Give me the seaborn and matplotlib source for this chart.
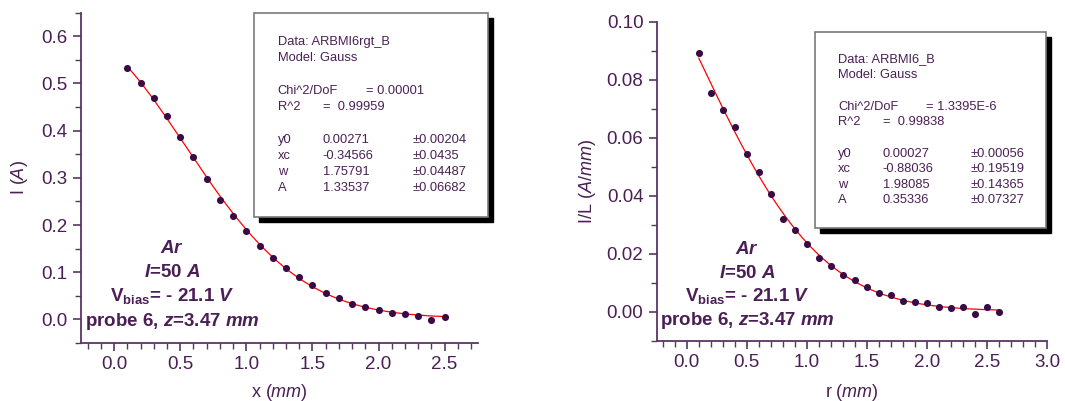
import numpy as np
import pandas as pd
import seaborn as sns
import matplotlib.pyplot as plt
from matplotlib.patches import Rectangle
from matplotlib.ticker import MultipleLocator

# ---- data ----
x_left = [0.1, 0.2, 0.3, 0.4, 0.5, 0.6, 0.7, 0.8, 0.9, 1.0, 1.1, 1.2, 1.3,
          1.4, 1.5, 1.6, 1.7, 1.8, 1.9, 2.0, 2.1, 2.2, 2.3, 2.4, 2.5]
i_left = [0.532, 0.501, 0.470, 0.432, 0.387, 0.344, 0.297, 0.254, 0.220,
          0.187, 0.155, 0.131, 0.108, 0.090, 0.072, 0.056, 0.045, 0.033,
          0.027, 0.021, 0.014, 0.011, 0.008, -0.001, 0.006]

r_right = [0.1, 0.2, 0.3, 0.4, 0.5, 0.6, 0.7, 0.8, 0.9, 1.0, 1.1, 1.2, 1.3,
           1.4, 1.5, 1.6, 1.7, 1.8, 1.9, 2.0, 2.1, 2.2, 2.3, 2.4, 2.5, 2.6]
il_right = [0.0892, 0.0755, 0.0697, 0.0638, 0.0543, 0.0481, 0.0407, 0.0320,
            0.0280, 0.0232, 0.0186, 0.0158, 0.0125, 0.0108, 0.0086, 0.0064,
            0.0058, 0.0036, 0.0032, 0.0029, 0.0016, 0.0014, 0.0017, -0.0007,
            0.0015, 0.0000]

# Gauss fit parameters (y0, xc, w, A) as printed in the boxes
fit_left = [0.00271, -0.34566, 1.75791, 1.33537]
fit_right = [0.00027, -0.88036, 1.98085, 0.35336]

# rows of the fit boxes: (text, column) ; column 0 name, 1 value, 2 error, 3 chi
box_left = [[("Data: ARBMI6rgt_B", 0)], [("Model: Gauss", 0)], None,
            [("Chi^2/DoF", 0), ("= 0.00001", 3)],
            [("R^2", 0), ("=  0.99959", 1)], None,
            [("y0", 0), ("0.00271", 1), ("±0.00204", 2)],
            [("xc", 0), ("-0.34566", 1), ("±0.0435", 2)],
            [("w", 0), ("1.75791", 1), ("±0.04487", 2)],
            [("A", 0), ("1.33537", 1), ("±0.06682", 2)]]
box_right = [[("Data: ARBMI6_B", 0)], [("Model: Gauss", 0)], None,
             [("Chi^2/DoF", 0), ("= 1.3395E-6", 3)],
             [("R^2", 0), ("=  0.99838", 1)], None,
             [("y0", 0), ("0.00027", 1), ("±0.00056", 2)],
             [("xc", 0), ("-0.88036", 1), ("±0.19519", 2)],
             [("w", 0), ("1.98085", 1), ("±0.14365", 2)],
             [("A", 0), ("0.35336", 1), ("±0.07327", 2)]]

annot_lines = [r"$\mathbfit{Ar}$",
               r"$\mathbfit{I}$=50 $\mathbfit{A}$",
               r"V$_{\mathbf{bias}}$= - 21.1 $\mathbfit{V}$",
               r"probe 6, $\mathbfit{z}$=3.47 $\mathbfit{mm}$"]

sns.set_theme(style="white")
plt.rcParams["font.family"] = ["Liberation Sans", "DejaVu Sans"]
plt.rcParams["mathtext.fontset"] = "custom"
plt.rcParams["mathtext.rm"] = "Liberation Sans"
plt.rcParams["mathtext.it"] = "Liberation Sans:italic"
plt.rcParams["mathtext.bf"] = "Liberation Sans:bold"
plt.rcParams["mathtext.bfit"] = "Liberation Sans:bold:italic"

PURPLE = "#4a1f55"
SPINE = "#5a3565"
DOT = "#3a0a45"


def gauss(x, p):
    y0, xc, w, A = p
    return y0 + A / (w * np.sqrt(np.pi / 2)) * np.exp(-2 * ((x - xc) / w) ** 2)


def style_axes(ax, xlim, ylim, ymaj, ymin, ylabel, xlabel, yfmt, xpad, ypad):
    sns.despine(ax=ax)
    for s in ["left", "bottom"]:
        ax.spines[s].set_color(SPINE)
        ax.spines[s].set_linewidth(1.3)
    ax.set_xlim(*xlim)
    ax.set_ylim(*ylim)
    ax.xaxis.set_major_locator(MultipleLocator(0.5))
    ax.xaxis.set_minor_locator(MultipleLocator(0.1))
    ax.yaxis.set_major_locator(MultipleLocator(ymaj))
    ax.yaxis.set_minor_locator(MultipleLocator(ymin))
    ax.yaxis.set_major_formatter(yfmt)
    ax.xaxis.set_major_formatter("{x:.1f}")
    ax.tick_params(which="major", direction="out", length=6, width=1.2,
                   color=SPINE, labelcolor=PURPLE, labelsize=13.5,
                   left=True, bottom=True)
    ax.tick_params(which="minor", direction="out", length=4, width=1.0,
                   color=SPINE, left=True, bottom=True)
    ax.set_xlabel(xlabel, color=PURPLE, fontsize=13, labelpad=xpad)
    ax.set_ylabel(ylabel, color=PURPLE, fontsize=13, labelpad=ypad)
    ax.patch.set_alpha(0)


def draw_box(fig, x0, y0, x1, y1, rows, cols_px, top_px, step_px):
    W, H = fig.bbox.width, fig.bbox.height
    sh = 5
    fig.patches.append(Rectangle((x0 / W + sh / W, 1 - y1 / H - sh / H),
                                 (x1 - x0) / W, (y1 - y0) / H,
                                 transform=fig.transFigure, facecolor="black",
                                 edgecolor="black", zorder=5))
    fig.patches.append(Rectangle((x0 / W, 1 - y1 / H), (x1 - x0) / W,
                                 (y1 - y0) / H, transform=fig.transFigure,
                                 facecolor="white", edgecolor="#7a7a7a",
                                 linewidth=1.2, zorder=6))
    y = top_px
    for row in rows:
        if row is None:
            y += step_px * 1.05
            continue
        for txt, col in row:
            fig.text(cols_px[col] / W, 1 - y / H, txt, color=PURPLE,
                     fontsize=9.3, ha="left", va="center", zorder=7)
        y += step_px


def annot(fig, cx, cy_list):
    W, H = fig.bbox.width, fig.bbox.height
    for txt, cy in zip(annot_lines, cy_list):
        fig.text(cx / W, 1 - cy / H, txt, color=PURPLE, fontsize=13.5,
                 fontweight="bold", ha="center", va="center", zorder=8)


fig = plt.figure(figsize=(10.65, 4.01), dpi=100)
ax1 = fig.add_axes([0.0761, 0.1446, 0.3724, 0.8237])
ax2 = fig.add_axes([0.6166, 0.1504, 0.3668, 0.7955])

# left panel
xf = np.linspace(min(x_left), max(x_left), 200)
sns.lineplot(x=xf, y=gauss(xf, fit_left), ax=ax1, color="red", linewidth=0.9)
sns.scatterplot(x=x_left, y=i_left, ax=ax1, color=DOT, s=26, linewidth=0,
                zorder=3)
style_axes(ax1, (-0.25, 2.75), (-0.05, 0.65), 0.1, 0.05,
           r"I ($\mathit{A}$)", r"x ($\mathit{mm}$)", "{x:.1f}", 6, 8)

# right panel
rf = np.linspace(min(r_right), max(r_right), 200)
sns.lineplot(x=rf, y=gauss(rf, fit_right), ax=ax2, color="red", linewidth=0.9)
sns.scatterplot(x=r_right, y=il_right, ax=ax2, color=DOT, s=26, linewidth=0,
                zorder=3)
style_axes(ax2, (-0.25, 3.0), (-0.01, 0.10), 0.02, 0.01,
           r"I/L ($\mathit{A/mm}$)", r"r ($\mathit{mm}$)", "{x:.2f}", 8, 6)

draw_box(fig, 254, 13, 488, 217, box_left, [277.7, 322.7, 412.3, 366],
         42.3, 16)
draw_box(fig, 815, 32, 1046, 228, box_right, [838.3, 882.7, 970.7, 926],
         59.3, 15.5)

annot(fig, 172, [248.3, 272.7, 295.5, 321.7])
annot(fig, 747, [249.5, 273.5, 295.5, 320.5])

fig.savefig("out.png", dpi=100)
